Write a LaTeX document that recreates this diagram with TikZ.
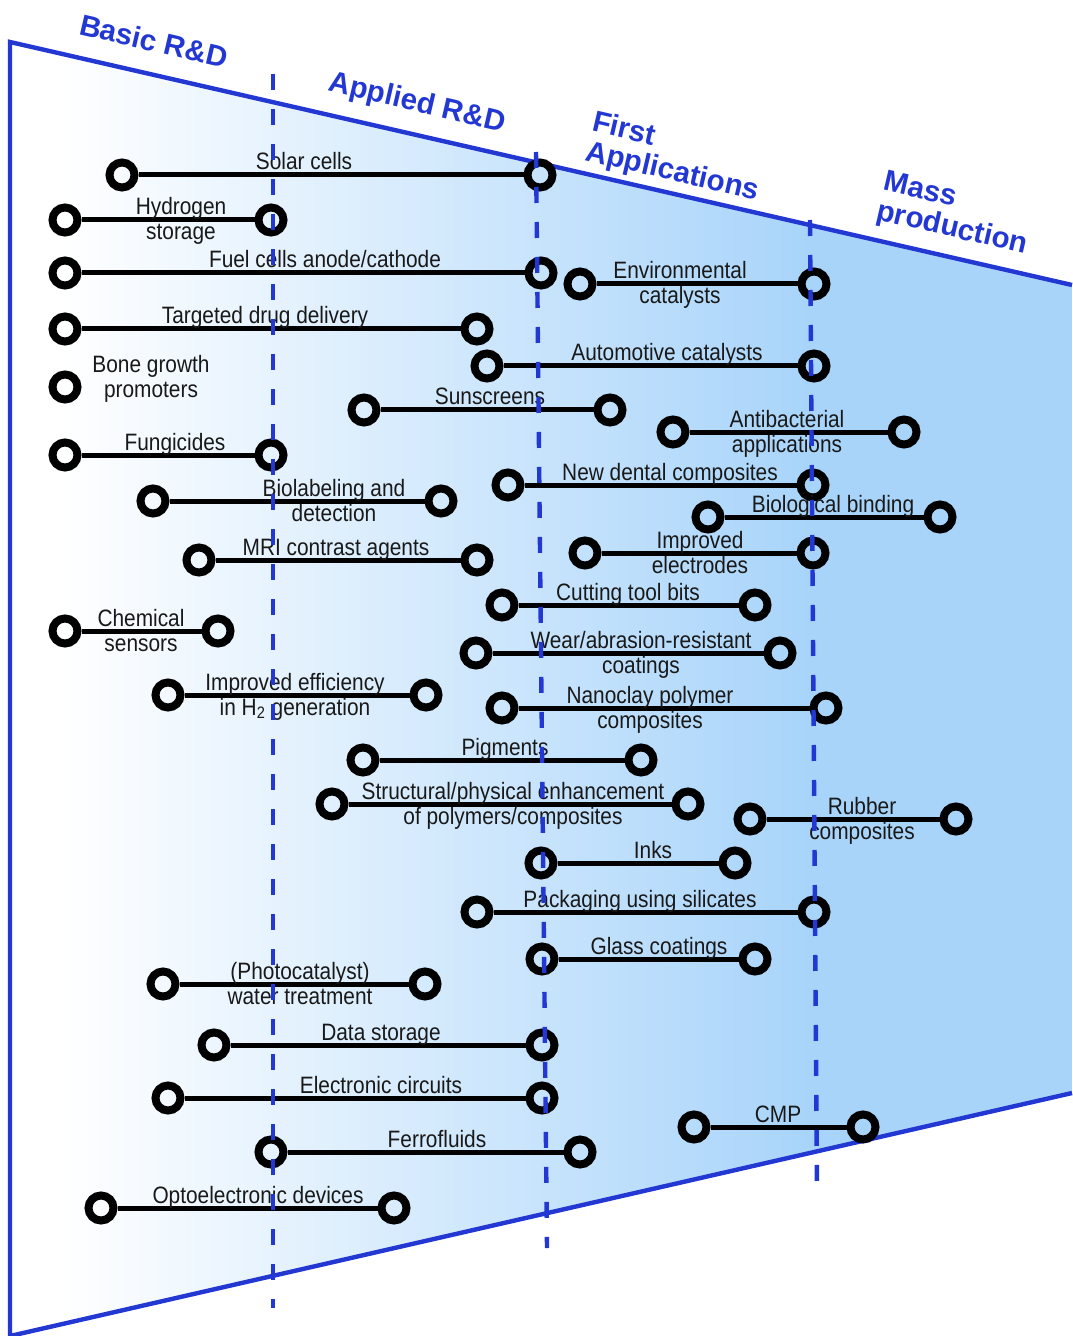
\documentclass[tikz,border=0pt]{standalone}
\usepackage{fontspec}
\setmainfont{Liberation Sans}
\newfontfamily\lblfont{Liberation Sans}[FakeStretch=0.88]
\usetikzlibrary{calc}

\definecolor{lineblue}{RGB}{35,55,210}
\definecolor{fillblue}{RGB}{168,212,250}

\tikzset{
    ring/.style={draw=black, circle, line width=4pt, minimum size=12.5pt, inner sep=0pt},
    bar/.style={draw=black, line width=2.5pt},
    lbl/.style={anchor=base, align=center, inner sep=0pt, text=black!90,
        font=\lblfont\fontsize{11.85}{12.5}\selectfont},
    oneline/.style={lbl, yshift=2.5pt},
    twoline/.style={lbl, yshift=-10pt},
    border/.style={draw=lineblue, line width=2.2pt},
    phase/.style={draw=lineblue, line width=2.2pt, dash pattern=on 8pt off 9.5pt},
    header/.style={text=lineblue, rotate=-13.1, align=left, inner sep=0pt,
        font=\fontsize{14.75}{15}\selectfont\bfseries},
}

\begin{document}
\begin{tikzpicture}[x=0.5pt, y=-0.5pt]
\useasboundingbox (0,0) rectangle (1072,1336);
\fill[white] (0,0) rectangle (1072,1336);

% Variables: 1 := ID, 2 := row, 3 := left end, 4 := right end, 5 := label x, 6 := label style, 7 := label.
\def\appbar#1(#2,#3,#4)#5#6#7{
    \node[ring] (#1 L) at (#3,#2) {};
    \node[ring] (#1 R) at (#4,#2) {};
    \draw[bar] (#1 L) -- (#1 R);
    \node[#6] (#1 T) at (#5,#2) {#7};
}

\coordinate (TL) at (10,42);
\coordinate (TR) at (1072,285);
\coordinate (BR) at (1072,1093);
\coordinate (BL) at (10,1336);

\begin{scope}
    \clip (TL) -- (TR) -- (BR) -- (BL) -- cycle;
    \shade[left color=white, middle color=fillblue!35!white, right color=fillblue]
        (60,0) rectangle (812,1336);
    \fill[fillblue] (811,0) rectangle (1072,1336);
\end{scope}
\draw[border] (TR) -- (TL) -- (BL) -- (BR);

\node[header] (BASIC) at (154,41) {Basic R\&D};
\node[header] (APPLIED) at (417,104) {Applied R\&D};
\node[header, anchor=base west] (FIRST) at (584,160) {First\\Applications};
\node[header, anchor=base west] (MASS) at (875,219) {Mass\\production};

\appbar{solar}(175,122,540){304}{oneline}{Solar cells}
\appbar{hydrogen}(220,65,271){181}{twoline}{Hydrogen\\storage}
\appbar{fuel}(273,65,541){325}{oneline}{Fuel cells anode/cathode}
\appbar{env}(284,580,814){680}{twoline}{Environmental\\catalysts}
\appbar{drug}(329,65,477){265}{oneline}{Targeted drug delivery}
\appbar{auto}(366,487,814){667}{oneline}{Automotive catalysts}
\node[ring] (bone L) at (65,387) {};
\node[lbl] (bone T) at (151,398) {Bone growth\\promoters};
\appbar{sun}(410,364,610){490}{oneline}{Sunscreens}
\appbar{antibac}(432,673,904){787}{twoline}{Antibacterial\\applications}
\appbar{fungi}(455,65,271){175}{oneline}{Fungicides}
\appbar{dental}(485,508,813){670}{oneline}{New dental composites}
\appbar{biolabel}(501,153,441){334}{twoline}{Biolabeling and\\detection}
\appbar{binding}(517,708,940){833}{oneline}{Biological binding}
\appbar{electrode}(553,585,813){700}{twoline}{Improved\\electrodes}
\appbar{mri}(560,199,477){336}{oneline}{MRI contrast agents}
\appbar{cutting}(605,502,755){628}{oneline}{Cutting tool bits}
\appbar{chem}(631,65,218){141}{twoline}{Chemical\\sensors}
\appbar{wear}(653,476,780){641}{twoline}{Wear/abrasion-resistant\\coatings}
\appbar{hgen}(695,168,426){295}{twoline}{Improved efficiency\\in H\textsubscript{2} generation}
\appbar{clay}(708,502,826){650}{twoline}{Nanoclay polymer\\composites}
\appbar{pigment}(760,363,641){505}{oneline}{Pigments}
\appbar{struct}(804,332,688){513}{twoline}{Structural/physical enhancement\\of polymers/composites}
\appbar{rubber}(819,750,956){862}{twoline}{Rubber\\composites}
\appbar{inks}(863,541,735){653}{oneline}{Inks}
\appbar{pack}(912,477,814){640}{oneline}{Packaging using silicates}
\appbar{glass}(959,542,755){659}{oneline}{Glass coatings}
\appbar{photo}(984,163,425){300}{twoline}{(Photocatalyst)\\water treatment}
\appbar{data}(1045,214,542){381}{oneline}{Data storage}
\appbar{circuit}(1098,168,542){381}{oneline}{Electronic circuits}
\appbar{cmp}(1127,694,863){778}{oneline}{CMP}
\appbar{ferro}(1152,271,580){437}{oneline}{Ferrofluids}
\appbar{opto}(1208,101,394){258}{oneline}{Optoelectronic devices}

% phase borders on top
\draw[phase] (273,74) coordinate (P1 top) -- (273,1308) coordinate (P1 bot);
\draw[phase] (536,152) coordinate (P2 top) -- (547,1248) coordinate (P2 bot);
\draw[phase] (810,220) coordinate (P3 top) -- (817,1195) coordinate (P3 bot);
\end{tikzpicture}
\end{document}
